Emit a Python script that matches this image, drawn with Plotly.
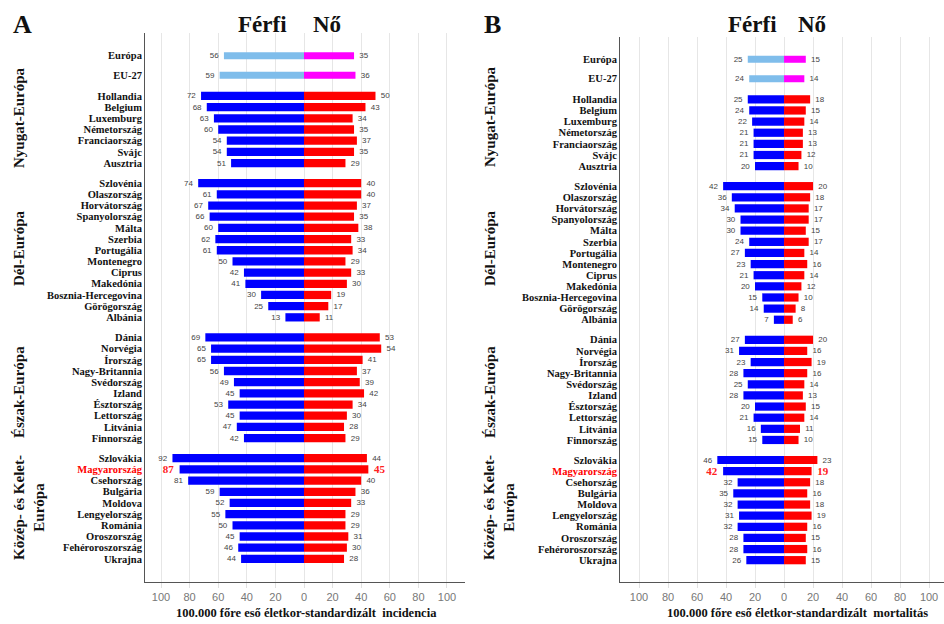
import plotly.graph_objects as go

W, H = 944, 624

countries = ["Európa", "EU-27",
             "Hollandia", "Belgium", "Luxemburg", "Németország", "Franciaország", "Svájc", "Ausztria",
             "Szlovénia", "Olaszország", "Horvátország", "Spanyolország", "Málta", "Szerbia", "Portugália",
             "Montenegro", "Ciprus", "Makedónia", "Bosznia-Hercegovina", "Görögország", "Albánia",
             "Dánia", "Norvégia", "Írország", "Nagy-Britannia", "Svédország", "Izland", "Észtország",
             "Lettország", "Litvánia", "Finnország",
             "Szlovákia", "Magyarország", "Csehország", "Bulgária", "Moldova", "Lengyelország", "Románia",
             "Oroszország", "Fehéroroszország", "Ukrajna"]
group_sizes = [2, 7, 13, 10, 10]
group_names = ["Nyugat-Európa", "Dél-Európa", "Észak-Európa", "Közép- és Kelet-<br>Európa"]

inc_male = [56, 59,
            72, 68, 63, 60, 54, 54, 51,
            74, 61, 67, 66, 60, 62, 61, 50, 42, 41, 30, 25, 13,
            69, 65, 65, 56, 49, 45, 53, 45, 47, 42,
            92, 87, 81, 59, 52, 55, 50, 45, 46, 44]
inc_female = [35, 36,
              50, 43, 34, 35, 37, 35, 29,
              40, 40, 37, 35, 38, 33, 34, 29, 33, 30, 19, 17, 11,
              53, 54, 41, 37, 39, 42, 34, 30, 28, 29,
              44, 45, 40, 36, 33, 29, 29, 31, 30, 28]
mort_male = [25, 24,
             25, 24, 22, 21, 21, 21, 20,
             42, 36, 34, 30, 30, 24, 27, 23, 21, 20, 15, 14, 7,
             27, 31, 23, 28, 25, 28, 20, 21, 16, 15,
             46, 42, 32, 35, 32, 31, 32, 28, 28, 26]
mort_female = [15, 14,
               18, 15, 14, 13, 13, 12, 10,
               20, 18, 17, 17, 15, 17, 14, 16, 14, 12, 10, 8, 6,
               20, 16, 19, 16, 14, 13, 15, 14, 11, 10,
               23, 19, 18, 16, 18, 19, 16, 15, 16, 15]
tick_vals = [-100, -80, -60, -40, -20, 0, 20, 40, 60, 80, 100]
tick_text = [str(abs(v)) for v in tick_vals]

# row positions (layout): gaps between groups
pos = []
p = 0.0
for gi, n in enumerate(group_sizes):
    for k in range(n):
        if gi == 0:
            pos.append(p if k == 0 else p + 1.75)
        else:
            pos.append(p + k)
    if gi == 0:
        p = 1.75 + 1.85
    else:
        p = pos[-1] + 1.8

HU = "Magyarország"
is_eu = [c in ("Európa", "EU-27") for c in countries]
NB = "\u00a0"

def px(x):
    return x / W

def py(y):
    return 1 - y / H

fig = go.Figure()

def add_panel(male, female, xa, ya):
    mcol = ["#7FBDEB" if e else "#0000FF" for e in is_eu]
    fcol = ["#FF00FF" if e else "#FF0000" for e in is_eu]
    widths = [0.63 if e else 0.74 for e in is_eu]
    tcol = ["#FF2020" if c == HU else "#444444" for c in countries]
    tsize = [11 if c == HU else 8 for c in countries]
    tfam = ["Liberation Serif" if c == HU else "Liberation Sans" for c in countries]
    mtext = [("<b>%d</b>" % v if c == HU else str(v)) + NB for v, c in zip(male, countries)]
    ftext = [NB + ("<b>%d</b>" % v if c == HU else str(v)) for v, c in zip(female, countries)]
    fig.add_trace(go.Bar(
        y=pos, x=[-v for v in male], orientation="h", width=widths,
        marker=dict(color=mcol, line=dict(width=0)),
        text=mtext, textposition="outside", textangle=0, constraintext="none",
        textfont=dict(color=tcol, size=tsize, family=tfam),
        cliponaxis=False, xaxis=xa, yaxis=ya, showlegend=False, hoverinfo="skip"))
    fig.add_trace(go.Bar(
        y=pos, x=female, orientation="h", width=widths,
        marker=dict(color=fcol, line=dict(width=0)),
        text=ftext, textposition="outside", textangle=0, constraintext="none",
        textfont=dict(color=tcol, size=tsize, family=tfam),
        cliponaxis=False, xaxis=xa, yaxis=ya, showlegend=False, hoverinfo="skip"))

add_panel(inc_male, inc_female, "x", "y")
add_panel(mort_male, mort_female, "x2", "y2")

ticktext_y = [("<span style='color:#FF0000'>%s</span>" % c) if c == HU else c for c in countries]

xcommon = dict(tickvals=tick_vals, ticktext=tick_text, showgrid=True, gridcolor="#E6E6E6",
               gridwidth=1, zeroline=False, showline=True, linecolor="#555555", linewidth=1,
               ticks="outside", ticklen=5, tickcolor="#E0E0E0",
               tickfont=dict(family="Liberation Sans", size=11, color="#777777"), fixedrange=True)
ycommon = dict(tickvals=pos, ticktext=ticktext_y, showgrid=False, zeroline=False, showline=True,
               linecolor="#555555", linewidth=1, ticks="",
               tickfont=dict(family="Liberation Serif", size=10.5, color="#111111", weight=700),
               fixedrange=True)

fig.update_layout(
    width=W, height=H, margin=dict(l=0, r=0, t=0, b=0),
    paper_bgcolor="white", plot_bgcolor="white", barmode="overlay", showlegend=False,
    xaxis=dict(domain=[px(145), px(465)], range=[-111.2, 112.6], anchor="y", **xcommon),
    yaxis=dict(domain=[py(582), py(33)], range=[47.07, -2.03], anchor="x", **ycommon),
    xaxis2=dict(domain=[px(620), px(944)], range=[-113.1, 110.3], anchor="y2", **xcommon),
    yaxis2=dict(domain=[py(582), py(37)], range=[46.96, -2.0], anchor="x2", **ycommon),
)

serif = "Liberation Serif"
ann = []
def A(x, y, text, size, angle=0, color="#111111", xanchor="center"):
    ann.append(dict(x=px(x), y=py(y), xref="paper", yref="paper", text=text, showarrow=False,
                    textangle=angle, xanchor=xanchor, yanchor="middle",
                    font=dict(family=serif, size=size, color=color, weight=700)))

A(22, 25, "A", 26)
A(262, 25, "Férfi", 23)
A(327, 25, "Nő", 23)
A(492, 25, "B", 26)
A(752, 25, "Férfi", 23)
A(812, 25, "Nő", 23)
A(306, 613, "100.000 főre eső életkor-standardizált  incidencia", 12.5)
A(797, 613, "100.000 főre eső életkor-standardizált  mortalitás", 12.5)

g_y_a = [118, 248, 392, 508]
g_y_b = [116, 248, 392, 508]
for name, ya, yb in zip(group_names, g_y_a, g_y_b):
    xa_ = 29 if "<br>" in name else 19
    xb_ = 499 if "<br>" in name else 490
    A(xa_, ya, name, 15, angle=-90)
    A(xb_, yb, name, 15, angle=-90)

fig.update_layout(annotations=ann)
fig.write_html("out.html")
